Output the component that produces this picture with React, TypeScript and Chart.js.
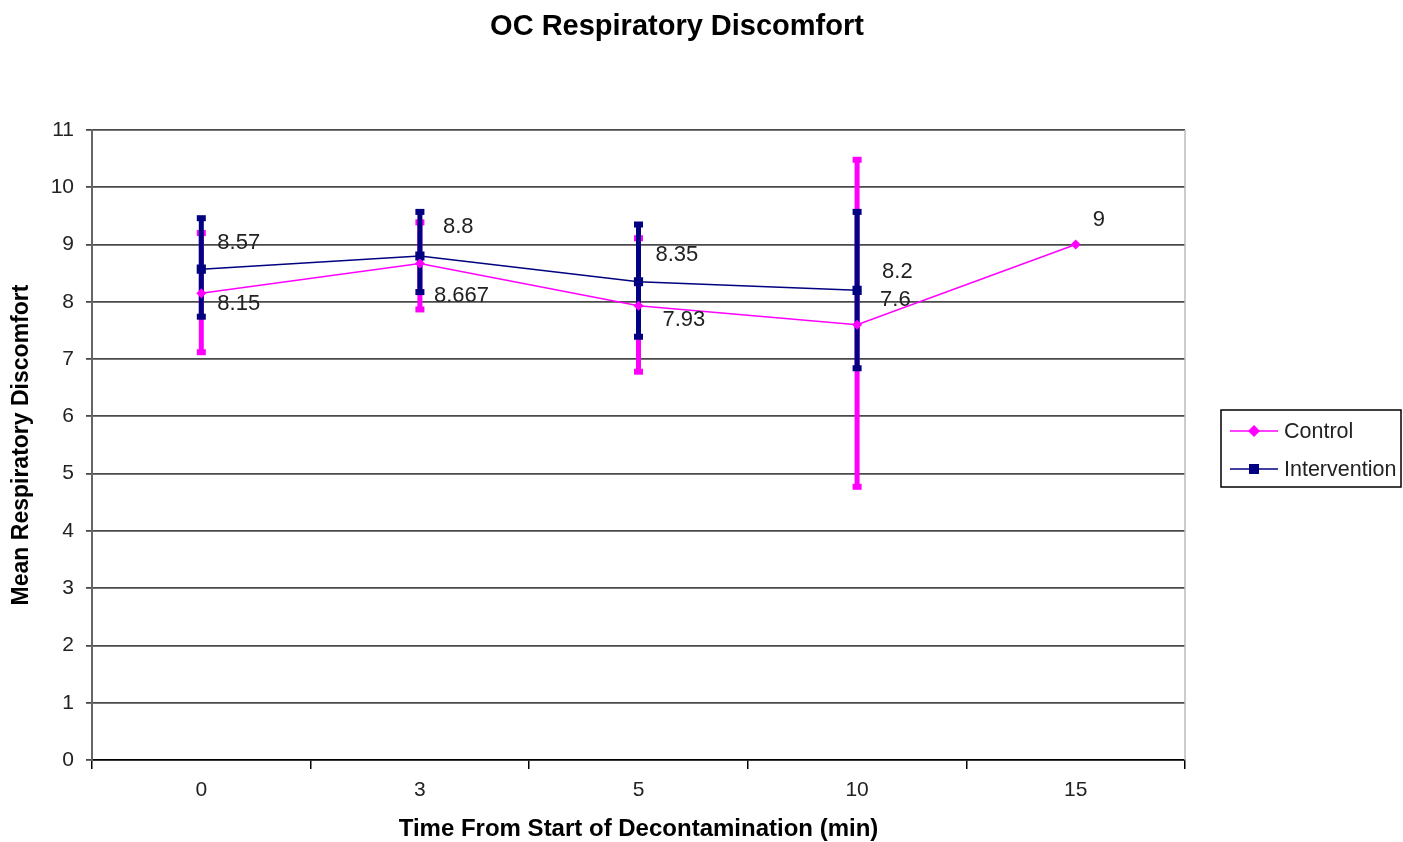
import React, { useEffect, useRef } from "react";
import { Chart, registerables } from "chart.js";

Chart.register(...registerables);

const categories = ["0", "3", "5", "10", "15"];
const controlValues = [8.15, 8.667, 7.93, 7.6, 9];
const interventionValues = [8.57, 8.8, 8.35, 8.2, null];
const controlErrPlus = [1.05, 0.72, 1.18, 2.88, null];
const controlErrMinus = [1.03, 0.8, 1.15, 2.83, null];
const interventionErrPlus = [0.89, 0.77, 1.0, 1.37, null];
const interventionErrMinus = [0.83, 0.63, 0.96, 1.36, null];
const controlLabels = ["8.15", "8.667", "7.93", "7.6", "9"];
const interventionLabels = ["8.57", "8.8", "8.35", "8.2", ""];
const yTicks = [0, 1, 2, 3, 4, 5, 6, 7, 8, 9, 10, 11];

// label placement offsets (px) relative to the point
const controlLabelOffsets = [[16, 11], [14, 32], [24, 14], [23, -25], [17, -25]];
const interventionLabelOffsets = [[16, -26], [23, -29], [17, -27], [25, -18], [0, 0]];

const PINK = "#FF00FF";
const NAVY = "#000080";
const FONT = "'Liberation Sans', Arial, sans-serif";

const errorBarPlugin = {
  id: "errorBars",
  beforeDatasetsDraw(chart: any) {
    const ctx = chart.ctx;
    const x = chart.scales.x;
    const y = chart.scales.y;
    const sets = [
      { vals: controlValues, plus: controlErrPlus, minus: controlErrMinus, color: PINK },
      { vals: interventionValues, plus: interventionErrPlus, minus: interventionErrMinus, color: NAVY },
    ];
    ctx.save();
    for (const s of sets) {
      s.vals.forEach((v: any, i: number) => {
        if (v == null || s.plus[i] == null) return;
        const px = x.getPixelForValue(i);
        const top = y.getPixelForValue(v + (s.plus[i] as number));
        const bot = y.getPixelForValue(v - (s.minus[i] as number));
        ctx.strokeStyle = s.color;
        ctx.lineWidth = 5;
        ctx.beginPath();
        ctx.moveTo(px, top);
        ctx.lineTo(px, bot);
        ctx.stroke();
        ctx.fillStyle = s.color;
        ctx.fillRect(px - 4.5, top - 3, 9, 6);
        ctx.fillRect(px - 4.5, bot - 3, 9, 6);
      });
    }
    ctx.restore();
  },
  afterDatasetsDraw(chart: any) {
    const ctx = chart.ctx;
    const x = chart.scales.x;
    const y = chart.scales.y;
    ctx.save();
    ctx.font = `22px ${FONT}`;
    ctx.fillStyle = "#222";
    ctx.textAlign = "left";
    ctx.textBaseline = "middle";
    controlValues.forEach((v, i) => {
      if (v == null) return;
      const o = controlLabelOffsets[i];
      ctx.fillText(controlLabels[i], x.getPixelForValue(i) + o[0], y.getPixelForValue(v) + o[1]);
    });
    interventionValues.forEach((v, i) => {
      if (v == null) return;
      const o = interventionLabelOffsets[i];
      ctx.fillText(interventionLabels[i], x.getPixelForValue(i) + o[0], y.getPixelForValue(v) + o[1]);
    });

    // title
    ctx.font = `bold 29px ${FONT}`;
    ctx.fillStyle = "#000";
    ctx.textAlign = "center";
    ctx.fillText("OC Respiratory Discomfort", 677, 27);

    // right border of plot area
    const a = chart.chartArea;
    ctx.strokeStyle = "#BBBBBB";
    ctx.lineWidth = 1.5;
    ctx.beginPath();
    ctx.moveTo(a.right, a.top);
    ctx.lineTo(a.right, a.bottom);
    ctx.stroke();

    // legend
    const lx = 1221, ly = 410, lw = 180, lh = 77;
    ctx.fillStyle = "#fff";
    ctx.fillRect(lx, ly, lw, lh);
    ctx.strokeStyle = "#000";
    ctx.lineWidth = 1.5;
    ctx.strokeRect(lx, ly, lw, lh);
    const items = [
      { label: "Control", color: PINK, y: 431, shape: "diamond" },
      { label: "Intervention", color: NAVY, y: 469, shape: "square" },
    ];
    ctx.font = `21.5px ${FONT}`;
    ctx.textAlign = "left";
    for (const it of items) {
      ctx.strokeStyle = it.color;
      ctx.lineWidth = 1.5;
      ctx.beginPath();
      ctx.moveTo(1230, it.y);
      ctx.lineTo(1278, it.y);
      ctx.stroke();
      ctx.fillStyle = it.color;
      if (it.shape === "diamond") {
        ctx.beginPath();
        ctx.moveTo(1254, it.y - 6);
        ctx.lineTo(1260, it.y);
        ctx.lineTo(1254, it.y + 6);
        ctx.lineTo(1248, it.y);
        ctx.closePath();
        ctx.fill();
      } else {
        ctx.fillRect(1249, it.y - 5, 10, 10);
      }
      ctx.fillStyle = "#222";
      ctx.fillText(it.label, 1284, it.y + 1);
    }
    ctx.restore();
  },
};

export default function App() {
  const ref = useRef<HTMLCanvasElement | null>(null);
  useEffect(() => {
    document.body.style.margin = "0";
    const chart = new Chart(ref.current as HTMLCanvasElement, {
      type: "line",
      data: {
        labels: categories,
        datasets: [
          {
            label: "Control",
            data: controlValues,
            borderColor: PINK,
            backgroundColor: PINK,
            borderWidth: 1.5,
            pointStyle: "rectRot",
            pointRadius: 5,
            pointBorderWidth: 0,
            tension: 0,
          },
          {
            label: "Intervention",
            data: interventionValues,
            borderColor: NAVY,
            backgroundColor: NAVY,
            borderWidth: 1.5,
            pointStyle: "rect",
            pointRadius: 6.5,
            pointBorderWidth: 0,
            tension: 0,
          },
        ],
      },
      options: {
        responsive: false,
        animation: false,
        layout: { padding: { top: 130, right: 218, left: 0, bottom: 0 } },
        plugins: {
          legend: { display: false },
          title: { display: false },
          tooltip: { enabled: false },
        },
        scales: {
          x: {
            type: "category",
            offset: true,
            grid: {
              offset: true,
              drawOnChartArea: false,
              drawTicks: true,
              tickLength: 9,
              color: "#000",
              lineWidth: 1.5,
            },
            border: { color: "#000", width: 1.5 },
            ticks: { color: "#222", font: { size: 21, family: FONT }, padding: 9 },
            title: {
              display: true,
              text: "Time From Start of Decontamination (min)",
              color: "#000",
              font: { size: 24, weight: "bold", family: FONT },
              padding: { top: 4, bottom: -2 },
            },
            afterFit(scale: any) {
              scale.height = 82;
            },
          },
          y: {
            min: 0,
            max: 11,
            afterBuildTicks(scale: any) {
              scale.ticks = yTicks.map((v) => ({ value: v }));
            },
            grid: {
              color: "#4a4a4a",
              lineWidth: 1.8,
              tickLength: 6,
              drawTicks: true,
            },
            border: { color: "#666", width: 2 },
            ticks: { color: "#222", font: { size: 21, family: FONT }, padding: 12 },
            title: {
              display: true,
              text: "Mean Respiratory Discomfort",
              color: "#000",
              font: { size: 23, weight: "bold", family: FONT },
              padding: { top: 8, bottom: 0 },
            },
            afterFit(scale: any) {
              scale.width = 92;
            },
          },
        },
      },
      plugins: [errorBarPlugin],
    } as any);
    return () => chart.destroy();
  }, []);
  return <canvas ref={ref} width={1403} height={842} style={{ display: "block" }} />;
}
